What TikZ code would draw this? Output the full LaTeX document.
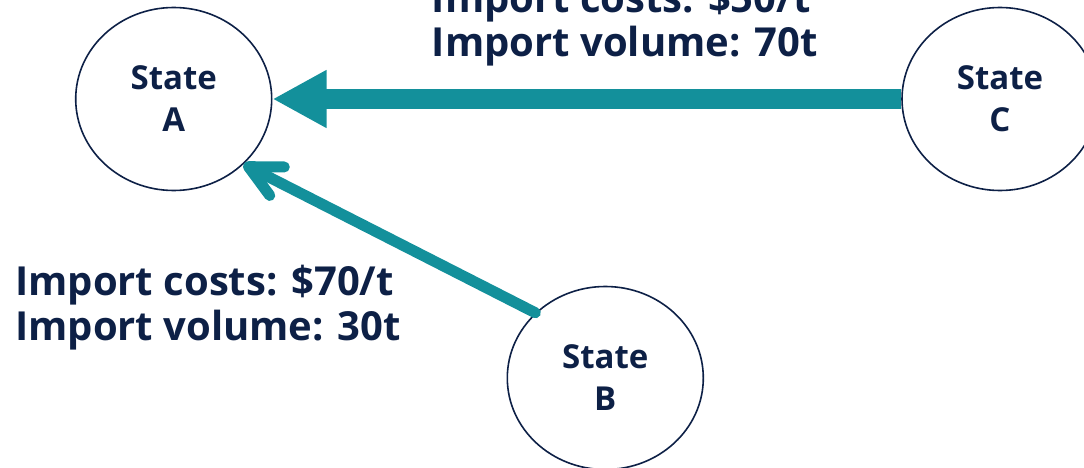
\documentclass[tikz,border=0pt]{standalone}
\usepackage{fontspec}
\setmainfont{Open Sans}
\usetikzlibrary{shapes.geometric,arrows.meta}
\definecolor{navy}{HTML}{0D2046}
\definecolor{teal}{HTML}{13909B}
\tikzset{
  state/.style={ellipse, draw=navy, line width=1.6pt, minimum width=196pt, minimum height=183pt, inner sep=0pt, text=navy, font=\fontsize{33}{42}\selectfont\bfseries, align=center},
  lbl/.style={anchor=base west, inner sep=0pt, text=navy, font=\fontsize{40}{44}\selectfont\bfseries},
  bigflow/.style={draw=teal, line width=20pt, -{Triangle[length=54pt,width=54pt,fill=teal]}},
  flow/.style={draw=teal, line width=11pt, line cap=round, -{Straight Barb[length=32pt,width=32pt,line cap=round,round]}}
}
\begin{document}
\begin{tikzpicture}[x=1pt,y=1pt]
\useasboundingbox (0,0) rectangle (1084,467);
\node[state] (A) at (173.7,368) {State\\A};
\node[state] (C) at (1000,368) {State\\C};
\node[state] (B) at (605.3,89) {State\\B};
\draw[bigflow] (C) -- (A);
\draw[flow] (B.137) -- (A.-43);
\node[lbl] (lc1) at (431.7,454) {Import costs: \$50/t};
\node[lbl] (lc2) at (431.7,410) {Import volume: 70t};
\node[lbl] (lb1) at (15,172) {Import costs: \$70/t};
\node[lbl] (lb2) at (15,127) {Import volume: 30t};
\end{tikzpicture}
\end{document}
